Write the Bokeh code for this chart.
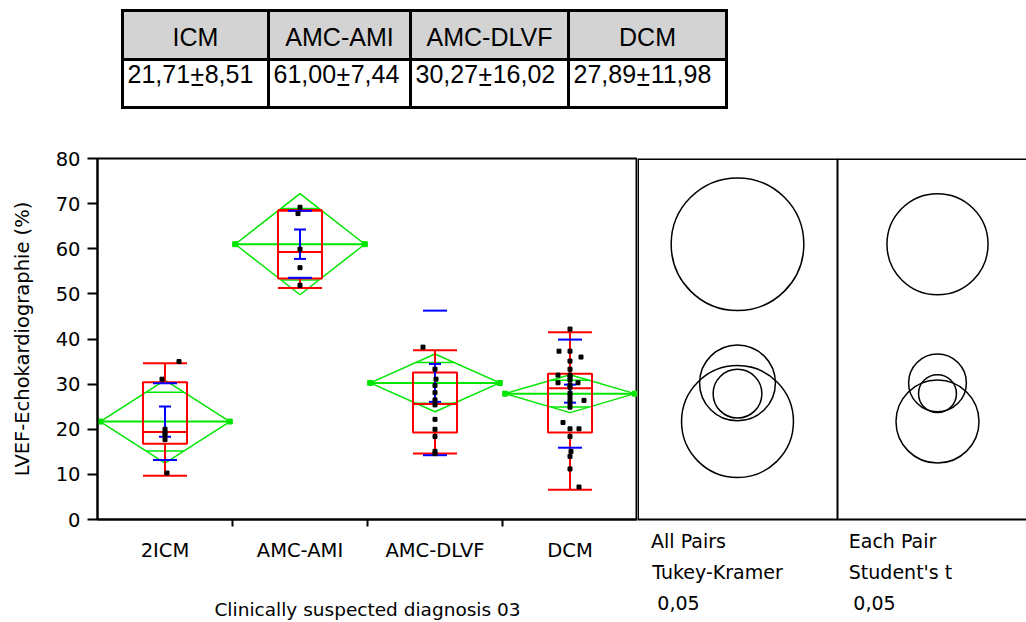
import math
from bokeh.plotting import figure
from bokeh.layouts import column, row
from bokeh.models import Range1d, FixedTicker, LinearAxis
from bokeh.core.properties import value
from bokeh.embed import file_html
from bokeh.resources import INLINE

# ---------------- data ----------------
groups = ["2ICM", "AMC-AMI", "AMC-DLVF", "DCM"]
table_groups = ["ICM", "AMC-AMI", "AMC-DLVF", "DCM"]
table_mean = [21.71, 61.00, 30.27, 27.89]
table_sd = [8.51, 7.44, 16.02, 11.98]

icm_vals = [35.0, 31.1, 20.0, 19.2, 18.7, 17.7, 10.3]
ami_vals = [69.2, 67.8, 59.9, 55.8, 51.9]
dlvf_vals = [38.2, 33.3, 31.1, 29.7, 28.1, 26.5, 25.4, 22.2, 20.0, 18.4, 15.1, 14.6]
dcm_vals = [42.2, 37.3, 37.3, 36.0, 35.1, 33.3, 32.0, 32.0, 31.6, 30.9, 30.3, 30.3,
            29.8, 29.3, 28.0, 27.4, 26.5, 26.4, 25.8, 24.9, 21.5, 20.1, 20.1, 18.4,
            15.1, 14.0, 11.2, 7.2]

# horizontal jitter of the points (pixels)
icm_jit = [14, -3, 0, 0, 0, 0, 2]
ami_jit = [0, -2, 0, 0, 0]
dlvf_jit = [-12, 0, 1, 0, 0, 0, 0, 0, 0, 0, 0, 0]
dcm_jit = [0, -11, 0, 11, 0, 0, -12, 0, 0, 0, -12, 8, 0, 0, 0, 0, 0, 14, 0, 0,
           -7, 0, 9, 0, 1, 0, 0, 9]

q1 = [16.8, 53.4, 19.3, 19.3]
median = [19.4, 59.3, 25.6, 29.1]
q3 = [30.4, 68.4, 32.6, 32.3]
whisk_lo = [9.7, 51.3, 14.6, 6.6]
whisk_hi = [34.6, 68.6, 37.5, 41.5]
mean_err = [3.35, 3.25, 4.2, 2.0]
ci95_half = [9.2, 11.2, 6.4, 4.2]
tukey_radius = [12.4, 14.7, 8.4, 5.4]

y_ticks = [0, 10, 20, 30, 40, 50, 60, 70, 80]
panel_notes = [["All Pairs", "Tukey-Kramer", "0,05"],
               ["Each Pair", "Student's t", "0,05"]]

# ---------------- layout constants ----------------
W = 1026
TABLE_H = 140
PLOT_H = 482
LEFT = 97
CAT_PX = 135
FRAME_TOP = 18
FRAME_H = 362
PANEL_W = W - LEFT - 4 * CAT_PX
YMAX = 80

RED = "#ff0000"
GREEN = "#00e600"
BLUE = "#0000ff"
FONT = "DejaVu Sans"
TFS = "25px"

# ---------------- table ----------------
tab = figure(width=W, height=TABLE_H, x_range=Range1d(0, W), y_range=Range1d(TABLE_H, 0),
             x_axis_type=None, y_axis_type=None, output_backend="svg", toolbar_location=None,
             min_border_left=0, min_border_right=0, min_border_top=0, min_border_bottom=0,
             outline_line_color=None)
tab.grid.visible = False
col_edges = [122, 268, 410, 568, 726]
row_edges = [10, 59, 107]
tab.quad(left=col_edges[:-1], right=col_edges[1:], top=[row_edges[0]] * 4,
         bottom=[row_edges[1]] * 4, fill_color="#d3d3d3", line_color=None)
for xe in col_edges:
    tab.segment(x0=[xe], y0=[row_edges[0] - 1.5], x1=[xe], y1=[row_edges[-1] + 1.5],
                line_color="black", line_width=3)
for ye in row_edges:
    tab.segment(x0=[col_edges[0]], y0=[ye], x1=[col_edges[-1]], y1=[ye],
                line_color="black", line_width=3)
centers_t = [(a + b) / 2 for a, b in zip(col_edges[:-1], col_edges[1:])]
tab.text(x=centers_t, y=[36] * 4, text=table_groups, text_font=value("Liberation Sans"),
         text_font_size=TFS, text_align="center", text_baseline="middle", text_color="black")

fmt = lambda v: f"{v:.2f}".replace(".", ",")
val_txt = [fmt(m) + "+" + fmt(s) for m, s in zip(table_mean, table_sd)]
val_x = [e + 5 for e in col_edges[:-1]]
tab.text(x=val_x, y=[73] * 4, text=val_txt,
         text_font=value("Liberation Sans"), text_font_size=TFS,
         text_align="left", text_baseline="middle", text_color="black")
# underline under the "+" (Arial-metric advance widths)
adv = {",": 0.278, "+": 0.584}
em = 25.0
ux0, ux1 = [], []
for x0, m in zip(val_x, table_mean):
    w = sum(adv.get(ch, 0.556) for ch in fmt(m)) * em
    ux0.append(x0 + w + 1.5)
    ux1.append(x0 + w + 0.584 * em - 1.5)
tab.segment(x0=ux0, y0=[84.5] * 4, x1=ux1, y1=[84.5] * 4, line_color="black", line_width=2)

# ---------------- main plot ----------------
p = figure(width=LEFT + 4 * CAT_PX, height=PLOT_H, x_range=Range1d(0, 4), y_range=Range1d(0, YMAX),
           output_backend="svg", toolbar_location=None,
           min_border_left=LEFT, min_border_right=0, min_border_top=FRAME_TOP,
           min_border_bottom=PLOT_H - FRAME_TOP - FRAME_H,
           outline_line_color="black", outline_line_width=2)
p.grid.visible = False

centers = [i + 0.5 for i in range(len(groups))]
p.xaxis.ticker = FixedTicker(ticks=centers, minor_ticks=[1, 2, 3])
p.xaxis.major_label_overrides = {c: g for c, g in zip(centers, groups)}
p.xaxis.major_tick_out = 0
p.xaxis.major_tick_in = 0
p.xaxis.minor_tick_out = 7
p.xaxis.minor_tick_in = 0
p.xaxis.minor_tick_line_width = 2
p.xaxis.axis_line_width = 2
p.xaxis.major_label_standoff = 12
p.xaxis.axis_label = "Clinically suspected diagnosis 03"
p.xaxis.axis_label_standoff = 34

p.yaxis.ticker = FixedTicker(ticks=y_ticks)
p.yaxis.major_tick_out = 10
p.yaxis.major_tick_in = 0
p.yaxis.minor_tick_out = 0
p.yaxis.major_tick_line_width = 2
p.yaxis.axis_line_width = 2
p.yaxis.major_label_standoff = 7
p.yaxis.axis_label = "LVEF-Echokardiographie (%)"
p.yaxis.axis_label_standoff = 19

for ax in (p.xaxis, p.yaxis):
    ax.major_label_text_font = FONT
    ax.major_label_text_font_size = "19.5px"
    ax.major_label_text_color = "black"
    ax.axis_label_text_font = FONT
    ax.axis_label_text_font_style = "normal"
    ax.axis_label_text_color = "black"
    ax.axis_line_color = "black"
p.xaxis.axis_label_text_font_size = "18.5px"
p.yaxis.axis_label_text_font_size = "19.5px"

# means diamonds
DW = 0.48
p.patches(xs=[[c - DW, c, c + DW, c] for c in centers],
          ys=[[m, m + h, m, m - h] for m, h in zip(table_mean, ci95_half)],
          fill_color=None, line_color=GREEN, line_width=1.5)
p.segment(x0=[c - DW for c in centers], y0=table_mean, x1=[c + DW for c in centers],
          y1=table_mean, line_color=GREEN, line_width=2)
ov = 1 - 1 / math.sqrt(2)
for sgn in (1, -1):
    ys_ov = [m + sgn * h / math.sqrt(2) for m, h in zip(table_mean, ci95_half)]
    p.segment(x0=[c - DW * ov for c in centers], y0=ys_ov, x1=[c + DW * ov for c in centers],
              y1=ys_ov, line_color=GREEN, line_width=1.5)
p.scatter(x=[c - DW for c in centers] + [c + DW for c in centers], y=table_mean * 2,
          marker="square", size=5, color=GREEN)

# quantile box plots
BW = 22 / CAT_PX
p.quad(left=[c - BW for c in centers], right=[c + BW for c in centers], bottom=q1, top=q3,
       fill_color=None, line_color=RED, line_width=2)
p.segment(x0=[c - BW for c in centers], y0=median, x1=[c + BW for c in centers], y1=median,
          line_color=RED, line_width=2)
p.segment(x0=centers, y0=q3, x1=centers, y1=whisk_hi, line_color=RED, line_width=2)
p.segment(x0=centers, y0=q1, x1=centers, y1=whisk_lo, line_color=RED, line_width=2)
p.segment(x0=[c - BW for c in centers], y0=whisk_hi, x1=[c + BW for c in centers], y1=whisk_hi,
          line_color=RED, line_width=2)
p.segment(x0=[c - BW for c in centers], y0=whisk_lo, x1=[c + BW for c in centers], y1=whisk_lo,
          line_color=RED, line_width=2)

# mean error bars and std dev lines
EW = 6 / CAT_PX
SW = 12 / CAT_PX
lo_e = [m - e for m, e in zip(table_mean, mean_err)]
hi_e = [m + e for m, e in zip(table_mean, mean_err)]
p.segment(x0=centers, y0=lo_e, x1=centers, y1=hi_e, line_color=BLUE, line_width=2)
p.segment(x0=[c - EW for c in centers], y0=lo_e, x1=[c + EW for c in centers], y1=lo_e,
          line_color=BLUE, line_width=2)
p.segment(x0=[c - EW for c in centers], y0=hi_e, x1=[c + EW for c in centers], y1=hi_e,
          line_color=BLUE, line_width=2)
sd_lo = [m - s for m, s in zip(table_mean, table_sd)]
sd_hi = [m + s for m, s in zip(table_mean, table_sd)]
p.segment(x0=[c - SW for c in centers], y0=sd_lo, x1=[c + SW for c in centers], y1=sd_lo,
          line_color=BLUE, line_width=2)
p.segment(x0=[c - SW for c in centers], y0=sd_hi, x1=[c + SW for c in centers], y1=sd_hi,
          line_color=BLUE, line_width=2)

# points
all_vals = [icm_vals, ami_vals, dlvf_vals, dcm_vals]
all_jit = [icm_jit, ami_jit, dlvf_jit, dcm_jit]
px_, py_ = [], []
for c, vals, jit in zip(centers, all_vals, all_jit):
    for v, j in zip(vals, jit):
        px_.append(c + j / CAT_PX)
        py_.append(v)
p.scatter(x=px_, y=py_, marker="square", size=4, color="black")

# ---------------- comparison circles panels ----------------
q = figure(width=PANEL_W, height=PLOT_H, x_range=Range1d(0, PANEL_W), y_range=Range1d(0, YMAX),
           x_axis_type=None, y_axis_type=None, output_backend="svg", toolbar_location=None,
           min_border_left=0, min_border_right=0, min_border_top=FRAME_TOP,
           min_border_bottom=PLOT_H - FRAME_TOP - FRAME_H,
           outline_line_color=None)
q.grid.visible = False
PW = 200
q.segment(x0=[0], y0=[YMAX], x1=[PANEL_W], y1=[YMAX], line_color="black", line_width=3)
q.segment(x0=[0.5, PW], y0=[0, 0], x1=[0.5, PW], y1=[YMAX, YMAX], line_color="black", line_width=2)
q.circle(x=[PW / 2] * 4, y=table_mean, radius=tukey_radius, radius_dimension="y",
         fill_color=None, line_color="black", line_width=1.5)
q.circle(x=[PW * 1.5] * 4, y=table_mean, radius=ci95_half, radius_dimension="y",
         fill_color=None, line_color="black", line_width=1.5)

# notes under the panels: one text line per stacked axis (label centres in panel pixels)
note_centers = [[51, 80, 41], [255, 263, 237]]
note_standoffs = [10, 6, 10]
for li in range(3):
    ticks = [note_centers[0][li], note_centers[1][li]]
    ax = LinearAxis(ticker=FixedTicker(ticks=ticks),
                    major_label_overrides={t: panel_notes[k][li] for k, t in enumerate(ticks)},
                    major_tick_out=0, major_tick_in=0, minor_tick_out=0, minor_tick_in=0,
                    major_label_standoff=note_standoffs[li],
                    major_label_text_font=FONT, major_label_text_font_size="19px",
                    major_label_text_color="black")
    if li == 0:
        ax.axis_line_color = "black"
        ax.axis_line_width = 2
    else:
        ax.axis_line_color = None
    q.add_layout(ax, "below")

layout = column(tab, row(p, q))
open("out.html", "w", encoding="utf-8").write(file_html(layout, INLINE))
